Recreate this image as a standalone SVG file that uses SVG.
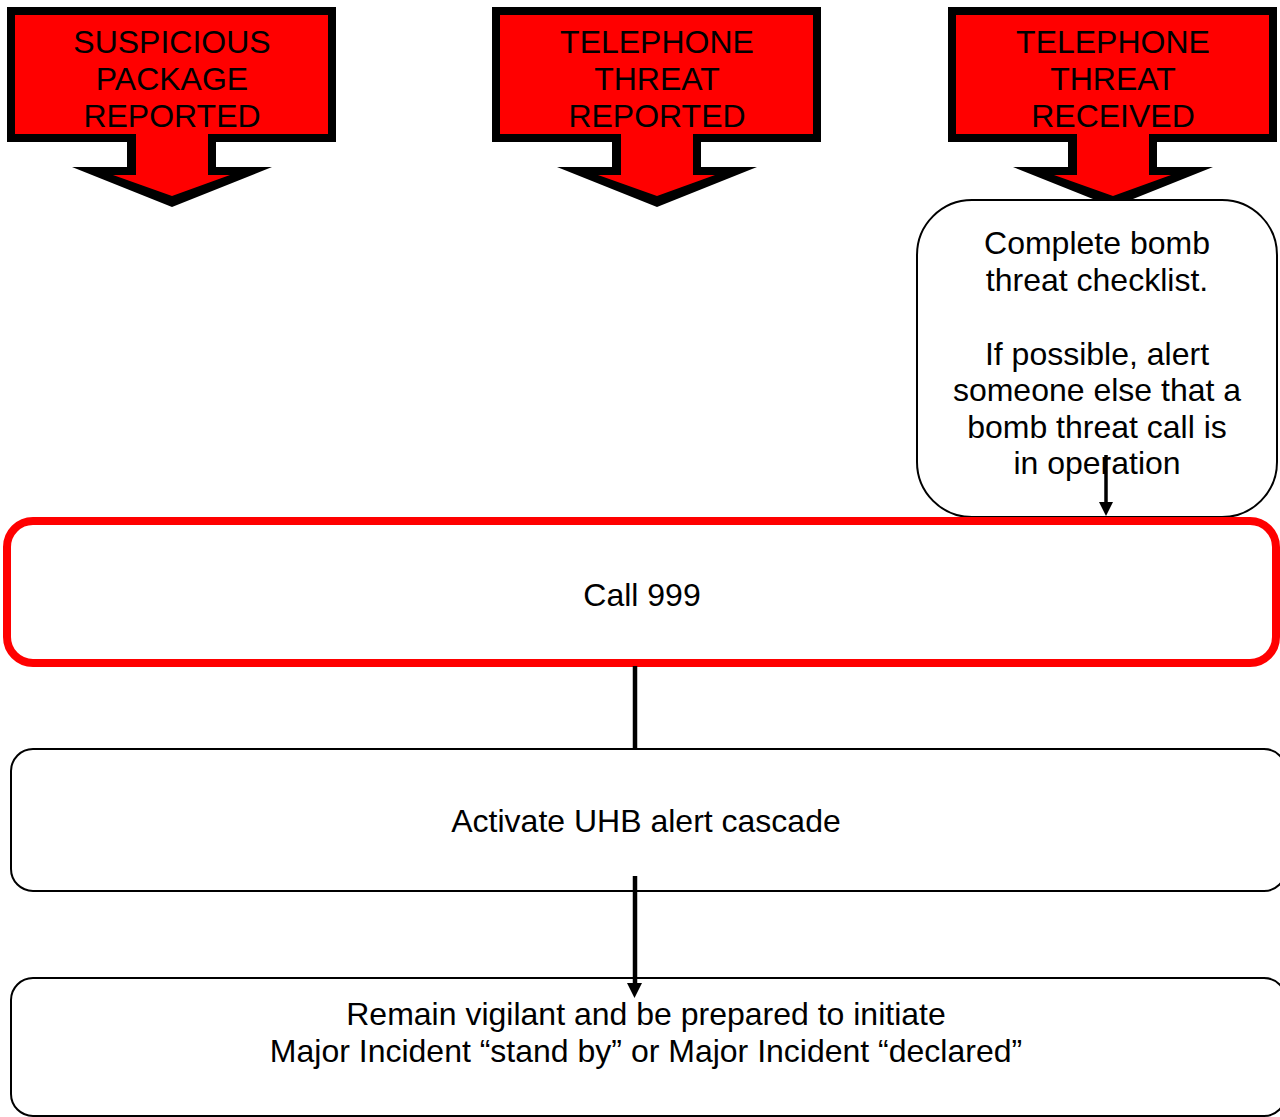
<svg xmlns="http://www.w3.org/2000/svg" xmlns:xlink="http://www.w3.org/1999/xlink" width="1280" height="1117" viewBox="0 0 1280 1117">
<style>
text{font-family:"Liberation Sans",Arial,sans-serif;font-size:32px;fill:#000;text-anchor:middle}
.box{fill:#fff;stroke:#000;stroke-width:2}
.red{fill:#fff;stroke:#ff0000;stroke-width:8}
.conn{stroke:#000;stroke-width:4.5;fill:none}
</style>
<defs>
<g id="callout">
<polygon points="7,7 336,7 336,142 216,142 216,167 272,167 172,207 72,167 127,167 127,142 7,142" fill="#000"/>
<polygon points="15,15 328,15 328,134 208,134 208,175 230,175 172,196 113,175 136,175 136,134 15,134" fill="#ff0000"/>
</g>
<marker id="ah" markerWidth="4" markerHeight="4" viewBox="0 0 10 10" refX="10" refY="5" orient="auto" markerUnits="strokeWidth">
<path d="M0,0 L10,5 L0,10 Z" fill="#000"/>
</marker>
</defs>
<g id="n-suspicious">
<use xlink:href="#callout"/>
<text x="172" y="53">SUSPICIOUS</text>
<text x="172" y="90">PACKAGE</text>
<text x="172" y="127">REPORTED</text>
</g>
<g id="n-tel-reported">
<use xlink:href="#callout" transform="translate(485,0)"/>
<text x="657" y="53">TELEPHONE</text>
<text x="657" y="90">THREAT</text>
<text x="657" y="127">REPORTED</text>
</g>
<g id="n-tel-received">
<use xlink:href="#callout" transform="translate(941,0)"/>
<text x="1113" y="53">TELEPHONE</text>
<text x="1113" y="90">THREAT</text>
<text x="1113" y="127">RECEIVED</text>
</g>
<g id="n-checklist">
<rect class="box" x="917" y="200" width="360" height="317" rx="55" ry="55"/>
<text x="1097" y="254">Complete bomb</text>
<text x="1097" y="291">threat checklist.</text>
<text x="1097" y="365">If possible, alert</text>
<text x="1097" y="401">someone else that a</text>
<text x="1097" y="438">bomb threat call is</text>
<text x="1097" y="474">in operation</text>
</g>
<g id="n-call999">
<rect class="red" x="7" y="521" width="1269" height="142" rx="26" ry="26"/>
<text x="642" y="606">Call 999</text>
</g>
<g id="n-cascade">
<rect class="box" x="11" y="749" width="1275" height="142" rx="22" ry="22"/>
<text x="646" y="832">Activate UHB alert cascade</text>
</g>
<g id="n-vigilant">
<rect class="box" x="11" y="978" width="1275" height="138" rx="22" ry="22"/>
<text x="646" y="1025">Remain vigilant and be prepared to initiate</text>
<text x="646" y="1062">Major Incident “stand by” or Major Incident “declared”</text>
</g>
<g id="connectors">
<line x1="1106" y1="455" x2="1106" y2="503" stroke="#000" stroke-width="3.5"/>
<polygon points="1099,502 1113,502 1106,516" fill="#000"/>
<line class="conn" x1="635" y1="666" x2="635" y2="748"/>
<line class="conn" x1="635" y1="876" x2="635" y2="984"/>
<polygon points="627,983 642,983 634.5,998" fill="#000"/>
</g>
</svg>
